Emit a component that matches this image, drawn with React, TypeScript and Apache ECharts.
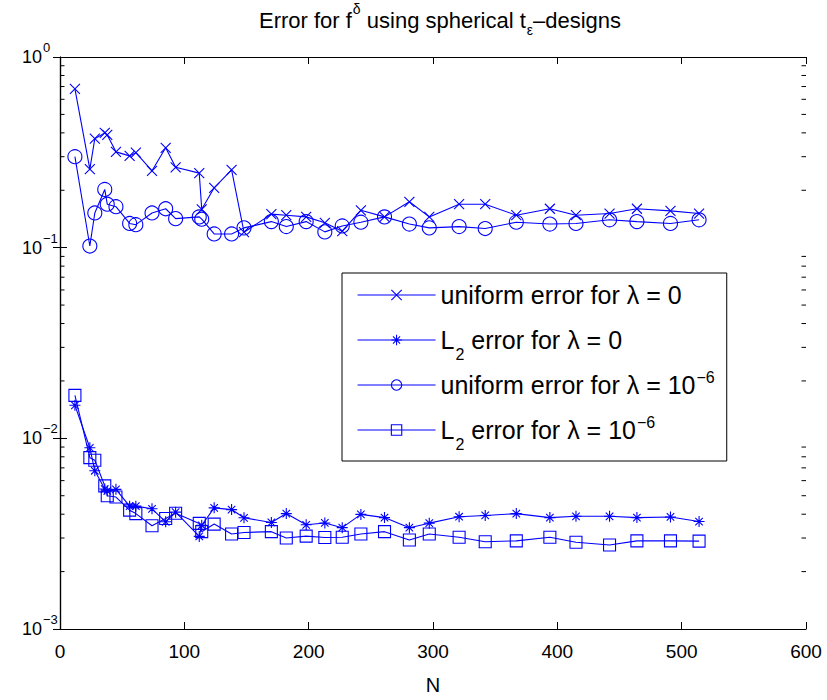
import React, { useEffect, useRef } from 'react';
import * as echarts from 'echarts';

// ---- data ----
const N = [12, 24, 28, 36, 38, 45, 56, 61, 74, 85, 93, 112, 114, 124, 138, 148, 170, 182, 198, 213, 227, 242, 261, 281, 297, 321, 342, 367, 394, 415, 442, 464, 491, 514];
const uniformLam0 = [0.68, 0.258, 0.373, 0.40, 0.39, 0.318, 0.303, 0.315, 0.253, 0.334, 0.264, 0.246, 0.159, 0.206, 0.256, 0.1205, 0.150, 0.148, 0.145, 0.135, 0.122, 0.157, 0.145, 0.174, 0.145, 0.169, 0.169, 0.148, 0.160, 0.148, 0.151, 0.160, 0.156, 0.151];
const l2Lam0 = [0.0149, 0.00892, 0.00676, 0.00542, 0.0053, 0.0054, 0.00441, 0.00441, 0.00427, 0.00365, 0.0041, 0.00306, 0.0035, 0.00432, 0.00423, 0.00383, 0.00362, 0.00403, 0.00352, 0.0036, 0.0034, 0.00399, 0.00384, 0.0034, 0.00359, 0.00388, 0.00394, 0.00403, 0.00384, 0.0039, 0.0039, 0.00384, 0.00387, 0.00366];
const uniformLam6 = [0.300, 0.102, 0.152, 0.202, 0.169, 0.164, 0.134, 0.132, 0.152, 0.160, 0.142, 0.145, 0.141, 0.118, 0.118, 0.127, 0.137, 0.129, 0.137, 0.121, 0.130, 0.136, 0.145, 0.133, 0.127, 0.129, 0.126, 0.136, 0.133, 0.134, 0.140, 0.137, 0.134, 0.140];
const l2Lam6 = [0.0168, 0.00792, 0.00767, 0.00563, 0.0050, 0.00492, 0.0042, 0.00403, 0.00348, 0.0038, 0.00405, 0.00358, 0.00324, 0.00355, 0.00315, 0.00321, 0.00324, 0.0030, 0.00307, 0.00302, 0.00303, 0.00315, 0.00324, 0.00293, 0.00315, 0.00303, 0.00287, 0.0029, 0.00303, 0.00285, 0.00276, 0.0029, 0.0029, 0.00289];

const seriesNames = ['uniform error for λ = 0', 'L2 error for λ = 0', 'uniform error for λ = 1e-6', 'L2 error for λ = 1e-6'];
const legendLabels = [
  '{t|uniform error for λ = 0}',
  '{t|L}{sub|2}{t| error for λ = 0}',
  '{t|uniform error for λ = 10}{sup|−6}',
  '{t|L}{sub|2}{t| error for λ = 10}{sup|−6}',
];
const titleText = '{a|Error for f}{s|δ}{a| using spherical t}{u|ε}{a|–designs}';
const xMin = 0;
const xMax = 600;
const xInterval = 100;
const yMin = 0.001;
const yMax = 1;
const minorMultipliers = [2, 3, 4, 5, 6, 7, 8, 9];
const decades = [-3, -2, -1];

const FONT = '"Liberation Sans", Arial, Helvetica, sans-serif';
const BLUE = '#0000ff';
const X_PATH = 'path://M0,0L10,10M10,0L0,10';
const STAR_PATH = 'path://M5,0L5,10M0,5L10,5M1.6,1.6L8.4,8.4M8.4,1.6L1.6,8.4';

const toPairs = (ys: number[]) => N.map((n, i) => [n, ys[i]]);

function makeSeries(name: string, ys: number[], symbol: string, size: number) {
  return {
    type: 'line',
    name,
    data: toPairs(ys),
    symbol,
    symbolSize: size,
    showSymbol: true,
    showAllSymbol: true,
    lineStyle: { color: BLUE, width: 1.1 },
    itemStyle: { color: 'transparent', borderColor: BLUE, borderWidth: 1.1 },
    emphasis: { disabled: true },
    silent: true,
    z: 3,
  };
}

export default function App() {
  const ref = useRef<HTMLDivElement>(null);
  useEffect(() => {
    const chart = echarts.init(ref.current!, null, { renderer: 'svg' });
    const option: any = {
      animation: false,
      backgroundColor: '#fff',
      title: {
        text: titleText,
        left: 440,
        top: 0,
        padding: 0,
        textAlign: 'center',
        textStyle: {
          fontWeight: 'normal',
          rich: {
            a: { fontFamily: FONT, fontSize: 22, fontWeight: 'normal', color: '#000', lineHeight: 40, verticalAlign: 'middle' },
            s: { fontFamily: FONT, fontSize: 14, fontWeight: 'normal', color: '#000', lineHeight: 10, verticalAlign: 'top', padding: [2, 0, 0, 1] },
            u: { fontFamily: FONT, fontSize: 14, fontWeight: 'normal', color: '#000', lineHeight: 10, verticalAlign: 'bottom', padding: [0, 0, 3, 1] },
          },
        },
      },
      grid: { left: 60, right: 21, top: 57, bottom: 62, containLabel: false },
      xAxis: [
        {
          type: 'value',
          min: xMin,
          max: xMax,
          interval: xInterval,
          name: 'N',
          nameLocation: 'middle',
          nameGap: 46,
          nameTextStyle: { fontFamily: FONT, fontSize: 20, color: '#000' },
          axisLine: { show: true, lineStyle: { color: '#000', width: 1.2 } },
          axisTick: { show: true, inside: true, length: 7, lineStyle: { color: '#000' } },
          axisLabel: { fontFamily: FONT, fontSize: 19, color: '#000', margin: 13 },
          splitLine: { show: false },
        },
        {
          type: 'value',
          position: 'top',
          min: xMin,
          max: xMax,
          interval: xInterval,
          axisLine: { show: true, lineStyle: { color: '#000', width: 1.2 } },
          axisTick: { show: true, inside: true, length: 7, lineStyle: { color: '#000' } },
          axisLabel: { show: false },
          splitLine: { show: false },
        },
      ],
      yAxis: [
        {
          type: 'log',
          logBase: 10,
          min: yMin,
          max: yMax,
          axisLine: { show: true, lineStyle: { color: '#000', width: 1.2 } },
          axisTick: { show: true, inside: true, length: 7, lineStyle: { color: '#000' } },
          axisLabel: {
            align: 'left',
            margin: 38,
            fontSize: 18,
            fontFamily: FONT,
            formatter: (v: number) => {
              const e = Math.round(Math.log10(v));
              return '{b|10}{s|' + (e < 0 ? '−' + (-e) : String(e)) + '}';
            },
            rich: {
              b: { fontFamily: FONT, fontSize: 18, color: '#000', lineHeight: 32, verticalAlign: 'middle' },
              s: { fontFamily: FONT, fontSize: 13, color: '#000', lineHeight: 8, verticalAlign: 'top', padding: [0, 0, 0, 1] },
            },
          },
          splitLine: { show: false },
        },
        {
          type: 'log',
          logBase: 10,
          position: 'right',
          min: yMin,
          max: yMax,
          axisLine: { show: true, lineStyle: { color: '#000', width: 1.2 } },
          axisTick: { show: true, inside: true, length: 7, lineStyle: { color: '#000' } },
          axisLabel: { show: false },
          splitLine: { show: false },
        },
      ],
      legend: {
        show: true,
        orient: 'vertical',
        left: 342,
        top: 273,
        padding: [0, 12, 9, 15],
        itemGap: 1,
        itemWidth: 78,
        itemHeight: 13,
        backgroundColor: '#fff',
        borderColor: '#000',
        borderWidth: 1,
        selectedMode: false,
        data: seriesNames,
        lineStyle: { color: BLUE, width: 1.1 },
        itemStyle: { color: 'transparent', borderColor: BLUE, borderWidth: 1.1 },
        formatter: (name: string) => legendLabels[seriesNames.indexOf(name)],
        textStyle: {
          fontSize: 25,
          fontFamily: FONT,
          lineHeight: 44,
          backgroundColor: 'transparent',
          rich: {
            t: { fontFamily: FONT, fontSize: 25, color: '#000', lineHeight: 44, verticalAlign: 'middle' },
            sup: { fontFamily: FONT, fontSize: 16, color: '#000', lineHeight: 10, verticalAlign: 'top', padding: [6, 0, 0, 1] },
            sub: { fontFamily: FONT, fontSize: 16, color: '#000', lineHeight: 10, verticalAlign: 'bottom', padding: [0, 0, 0, 1] },
          },
        },
        z: 10,
      },
      series: [
        makeSeries(seriesNames[0], uniformLam0, X_PATH, 10),
        makeSeries(seriesNames[1], l2Lam0, STAR_PATH, 11),
        makeSeries(seriesNames[2], uniformLam6, 'circle', 14),
        makeSeries(seriesNames[3], l2Lam6, 'rect', 12),
      ],
    };
    chart.setOption(option);

    const xl = chart.convertToPixel({ xAxisIndex: 0 }, xMin) as number;
    const xr = chart.convertToPixel({ xAxisIndex: 0 }, xMax) as number;
    const g: any[] = [];
    decades.forEach((k) => {
      minorMultipliers.forEach((m) => {
        const y = chart.convertToPixel({ yAxisIndex: 0 }, m * Math.pow(10, k)) as number;
        g.push({ type: 'line', silent: true, shape: { x1: xl, y1: y, x2: xl + 4.5, y2: y }, style: { stroke: '#000', lineWidth: 1 } });
        g.push({ type: 'line', silent: true, shape: { x1: xr - 4.5, y1: y, x2: xr, y2: y }, style: { stroke: '#000', lineWidth: 1 } });
      });
    });
    chart.setOption({ graphic: g });

    return () => chart.dispose();
  }, []);
  return <div ref={ref} style={{ position: 'absolute', left: 0, top: 0, width: 827, height: 700 }} />;
}
